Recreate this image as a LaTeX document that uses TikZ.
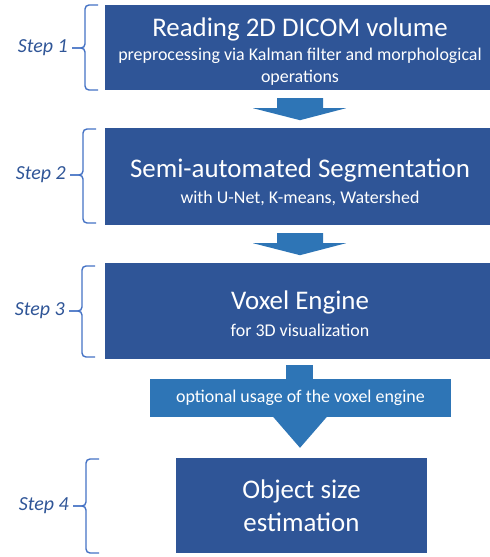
\documentclass[tikz,border=0pt]{standalone}
\usepackage{fontspec}
\setmainfont{Carlito}
\usetikzlibrary{calc}

\definecolor{boxblue}{HTML}{2F5597}
\definecolor{arrowblue}{HTML}{2E75B6}
\definecolor{braceblue}{HTML}{4472C4}

\newcommand{\titlesize}{\fontsize{27}{32}\selectfont}
\newcommand{\subsize}{\fontsize{18}{23}\selectfont}
% brace with label: name, label, spine x, top y, bottom y, middle y
\newcommand{\stepbrace}[6]{
  \draw[bracestyle] (#3+13,#4) -- (#3,#4) -- (#3,#6) -- (#3-13,#6);
  \draw[bracestyle] (#3-13,#6) -- (#3,#6) -- (#3,#5) -- (#3+13,#5);
  \node[steplabel] (#1) at (#3-17,#6) {#2};}
% block arrow below a box
\newcommand{\blockarrow}[1]{
  \fill[arrowblue] ($(#1.south)+(-23,8)$) -- ($(#1.south)+(23,8)$) -- ($(#1.south)+(23,18)$)
    -- ($(#1.south)+(46,18)$) -- ($(#1.south)+(0,30)$) -- ($(#1.south)+(-47,18)$)
    -- ($(#1.south)+(-23,18)$) -- cycle;}

\tikzset{
  stagebox/.style={fill=boxblue, text=white, inner sep=0pt, align=center, minimum width=390bp, font=\subsize},
  bracestyle/.style={draw=braceblue, line width=1.4bp, rounded corners=4bp},
  steplabel/.style={anchor=east, inner sep=0pt, text=boxblue, font=\fontsize{20}{24}\selectfont\itshape}
}

\begin{document}
\begin{tikzpicture}[x=1bp, y=-1bp]
    \useasboundingbox (0,0) rectangle (490,557);

    % boxes
    \node[stagebox, minimum height=85bp] (read) at (300,47.5)
      {{\titlesize\rule{0pt}{27bp}Reading 2D DICOM volume}\\[1bp]preprocessing via Kalman filter and morphological\\operations};
    \node[stagebox, minimum height=97bp] (segm) at (300,176.5)
      {{\titlesize\rule{0pt}{30bp}Semi-automated Segmentation}\\[3bp]with U-Net, K-means, Watershed};
    \node[stagebox, minimum height=96bp] (voxel) at (300,311)
      {{\titlesize\rule{0pt}{25bp}Voxel Engine}\\[4bp]for 3D visualization};
    \node[stagebox, minimum width=251bp, minimum height=95bp, font=\titlesize] (objsize) at (301.5,505.5)
      {Object size\\[1bp]estimation};

    % arrows
    \blockarrow{read}
    \blockarrow{segm}

    % optional callout
    \fill[arrowblue] ($(voxel.south)+(-14,6)$) rectangle ($(voxel.south)+(13,21)$);
    \node[fill=arrowblue, text=white, inner sep=0pt, minimum width=301bp, minimum height=38bp,
      font=\subsize] (optional) at (300.5,398) {optional usage of the voxel engine};
    \fill[arrowblue] ($(optional.south)+(-27.5,-0.5)$) -- ($(optional.south)+(26.5,-0.5)$)
      -- ($(objsize.north)+(-1.5,-10)$) -- cycle;

    % braces
    \stepbrace{step1}{Step 1}{85}{5}{90}{48}
    \stepbrace{step2}{Step 2}{83}{129}{223}{175}
    \stepbrace{step3}{Step 3}{82}{266}{357}{311}
    \stepbrace{step4}{Step 4}{86}{459}{553}{506}
\end{tikzpicture}
\end{document}
